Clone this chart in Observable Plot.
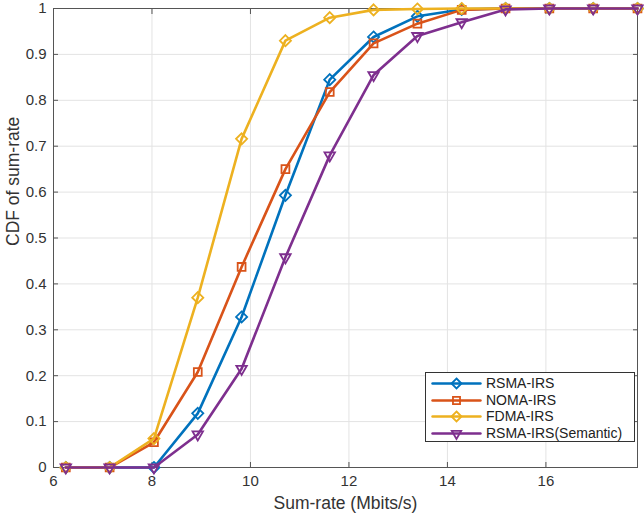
<!DOCTYPE html>
<html>
<head>
<meta charset="utf-8">
<script src="https://cdn.jsdelivr.net/npm/d3@7"></script>
<script src="https://cdn.jsdelivr.net/npm/@observablehq/plot@0.6"></script>
<style>
  body { margin: 0; background: #fff; }
  #wrap { position: relative; width: 644px; height: 517px; font-family: "Liberation Sans", "DejaVu Sans", sans-serif; }
  #legend { position: absolute; left: 425px; top: 372px; width: 210px; height: 70px; background: #fff; border: 1px solid #333; box-sizing: border-box; padding: 2px 0 0 4px; font-size: 14px; color: #222; }
  .li { display: flex; align-items: center; height: 16.5px; }
  .li svg { margin-right: 4px; }
</style>
</head>
<body>
<div id="wrap"><div id="chart"></div><div id="legend"></div></div>
<script>
const rates = [6.25, 7.14, 8.04, 8.93, 9.82, 10.71, 11.61, 12.5, 13.39, 14.29, 15.18, 16.07, 16.96, 17.86];
const seriesNames = ["RSMA-IRS", "NOMA-IRS", "FDMA-IRS", "RSMA-IRS(Semantic)"];
const rsma = [0, 0, 0, 0.118, 0.328, 0.593, 0.845, 0.938, 0.983, 0.998, 1, 1, 1, 1];
const noma = [0, 0, 0.055, 0.208, 0.437, 0.65, 0.818, 0.924, 0.967, 0.997, 1, 1, 1, 1];
const fdma = [0, 0, 0.063, 0.37, 0.716, 0.93, 0.98, 0.997, 0.999, 1, 1, 1, 1, 1];
const semantic = [0, 0, 0, 0.072, 0.215, 0.458, 0.68, 0.855, 0.94, 0.97, 0.998, 1, 1, 1];
const xTicks = [6, 8, 10, 12, 14, 16];
const yTicks = [0, 0.1, 0.2, 0.3, 0.4, 0.5, 0.6, 0.7, 0.8, 0.9, 1];
const yTickLabels = ["0", "0.1", "0.2", "0.3", "0.4", "0.5", "0.6", "0.7", "0.8", "0.9", "1"];

const colors = ["#0072BD", "#D95319", "#EDB120", "#7E2F8E"];
const symbols = ["diamond2", "square2", "diamond2", "triangle2"];
const rotations = [0, 0, 0, 180];
const allValues = [rsma, noma, fdma, semantic];

const data = [];
allValues.forEach((vals, si) => vals.forEach((v, i) => data.push({series: seriesNames[si], x: rates[i], y: v})));

const marks = [
  Plot.gridX(xTicks, {stroke: "#e3e3e3", strokeOpacity: 1}),
  Plot.gridY(yTicks, {stroke: "#e3e3e3", strokeOpacity: 1}),
  Plot.frame({stroke: "#555"}),
  Plot.axisX(xTicks, {tickSize: -5, tickPadding: 13, stroke: "#555", fontSize: 15, fill: "#333", label: null}),
  Plot.axisX(xTicks, {anchor: "top", tickSize: -5, stroke: "#555", label: null, tickFormat: () => ""}),
  Plot.axisY(yTicks, {tickSize: -5, tickPadding: 12, stroke: "#555", fontSize: 15, fill: "#333", label: null, tickFormat: (d, i) => yTickLabels[i]}),
  Plot.axisY(yTicks, {anchor: "right", tickSize: -5, stroke: "#555", label: null, tickFormat: () => ""}),
  Plot.text(["Sum-rate (Mbits/s)"], {frameAnchor: "bottom", dy: 41, fontSize: 17.5, fill: "#333"}),
  Plot.text(["CDF of sum-rate"], {frameAnchor: "left", dx: -40, dy: 8, rotate: -90, fontSize: 17.5, fill: "#333"})
];
seriesNames.forEach((name, si) => {
  const d = data.filter(p => p.series === name);
  marks.push(Plot.line(d, {x: "x", y: "y", stroke: colors[si], strokeWidth: 2.6}));
  marks.push(Plot.dot(d, {x: "x", y: "y", stroke: colors[si], symbol: symbols[si], rotate: rotations[si], r: 5, strokeWidth: 1.8, fill: "none"}));
});

const chart = Plot.plot({
  width: 644,
  height: 517,
  marginLeft: 53,
  marginRight: 7,
  marginTop: 8,
  marginBottom: 50,
  style: {fontFamily: "Liberation Sans, DejaVu Sans, sans-serif", background: "#fff", overflow: "visible"},
  x: {domain: [6, 17.86]},
  y: {domain: [0, 1]},
  marks
});
document.getElementById("chart").appendChild(chart);

const legend = document.getElementById("legend");
seriesNames.forEach((name, si) => {
  const row = document.createElement("div");
  row.className = "li";
  const s = Plot.plot({
    width: 52, height: 16, margin: 0,
    x: {domain: [0, 1], axis: null}, y: {domain: [0, 1], axis: null},
    marks: [
      Plot.line([{x: 0.04, y: 0.5}, {x: 0.96, y: 0.5}], {x: "x", y: "y", stroke: colors[si], strokeWidth: 2.6}),
      Plot.dot([{x: 0.5, y: 0.5}], {x: "x", y: "y", stroke: colors[si], symbol: symbols[si], rotate: rotations[si], r: 4.5, strokeWidth: 1.8})
    ]
  });
  row.appendChild(s);
  const t = document.createElement("span");
  t.textContent = name;
  row.appendChild(t);
  legend.appendChild(row);
});
</script>
</body>
</html>
